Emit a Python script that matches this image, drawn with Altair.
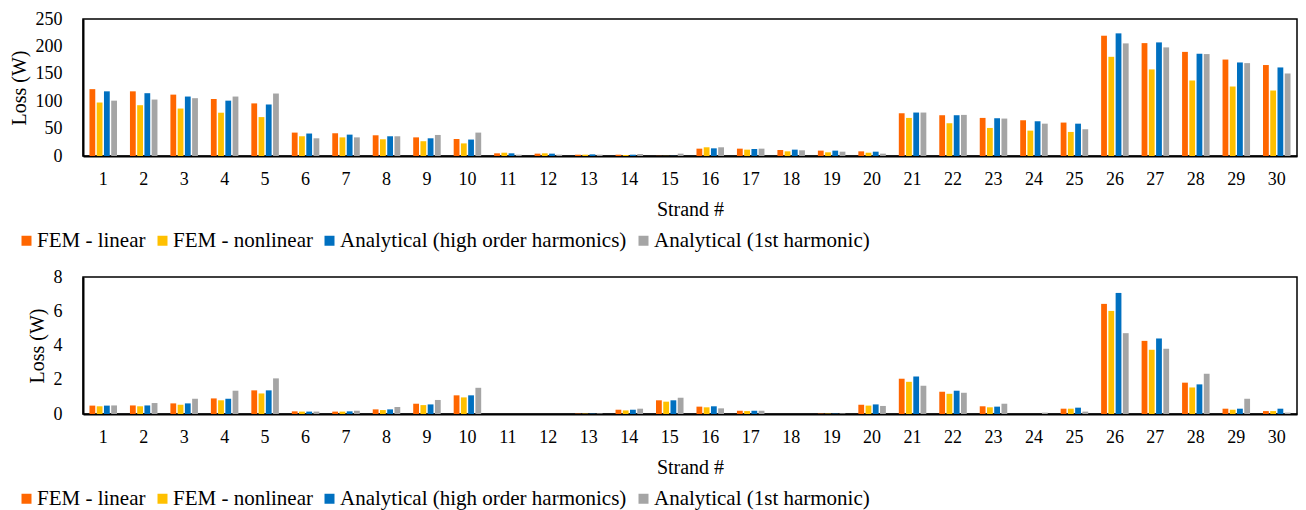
import altair as alt
import pandas as pd

strands = list(range(1, 31))
series_names = ["FEM - linear", "FEM - nonlinear",
                "Analytical (high order harmonics)", "Analytical (1st harmonic)"]
colors = ["#FF6600", "#FFC000", "#0070C0", "#A5A5A5"]

# Top chart
top_fem_linear = [122, 118, 112, 104, 96, 42.7, 41.5, 37.8, 34, 31,
                  4.9, 4.3, 2.4, 2.4, 0.3, 13.4, 13.4, 11, 9.8, 8.5,
                  78, 74.4, 69.5, 65.2, 61, 219.5, 206, 190, 176, 166]
top_fem_nonlinear = [97.6, 92.7, 86.6, 79, 71, 36, 34, 30.5, 27, 23,
                     6, 4.9, 2.4, 1.8, 0.2, 15.9, 11.6, 8.5, 6.7, 6,
                     69.5, 59.8, 51.2, 46.3, 43.9, 181, 158, 137.8, 126.8, 119.5]
top_ana_high = [118, 114.6, 108.5, 101, 94, 41, 39, 36, 32.3, 30,
                4.9, 4.3, 3, 2.4, 0.3, 14, 12.8, 11.6, 9.8, 7.9,
                79.3, 74.4, 68.9, 63.4, 59, 223.8, 207.3, 186.6, 170.7, 161.6]
top_ana_first = [101, 103, 105.5, 108.5, 114, 32.3, 34, 36, 38.4, 42.7,
                 2.4, 2.4, 2.4, 3.7, 4.3, 15.9, 13.4, 10.4, 7.9, 4.3,
                 79.3, 75, 68.3, 59, 48.8, 205.5, 198.2, 186, 169.5, 150.6]

# Bottom chart
bot_fem_linear = [0.49, 0.5, 0.62, 0.91, 1.38, 0.155, 0.14, 0.27, 0.6, 1.09,
                  0, 0, 0.02, 0.25, 0.8, 0.43, 0.19, 0, 0.02, 0.54,
                  2.06, 1.3, 0.45, 0, 0.31, 6.43, 4.27, 1.83, 0.31, 0.17]
bot_fem_nonlinear = [0.45, 0.45, 0.54, 0.8, 1.2, 0.14, 0.14, 0.23, 0.52, 0.97,
                     0, 0, 0.02, 0.21, 0.72, 0.39, 0.17, 0, 0.02, 0.49,
                     1.88, 1.18, 0.39, 0, 0.31, 6.02, 3.75, 1.55, 0.25, 0.17]
bot_ana_high = [0.49, 0.5, 0.62, 0.89, 1.38, 0.14, 0.155, 0.27, 0.56, 1.09,
                0, 0, 0.02, 0.25, 0.8, 0.45, 0.19, 0, 0.02, 0.56,
                2.19, 1.36, 0.43, 0, 0.37, 7.07, 4.41, 1.73, 0.31, 0.31]
bot_ana_first = [0.5, 0.64, 0.89, 1.36, 2.08, 0.14, 0.19, 0.41, 0.82, 1.53,
                 0, 0, 0.03, 0.31, 0.95, 0.33, 0.19, 0, 0.03, 0.47,
                 1.65, 1.24, 0.6, 0.08, 0.14, 4.72, 3.81, 2.35, 0.89, 0.08]

top_ticks = [0, 50, 100, 150, 200, 250]
bot_ticks = [0, 2, 4, 6, 8]


def long_df(cols):
    rows = []
    for name, vals in zip(series_names, cols):
        for s, v in zip(strands, vals):
            rows.append({"Strand": s, "Series": name, "Loss": v})
    return pd.DataFrame(rows)


df_top = long_df([top_fem_linear, top_fem_nonlinear, top_ana_high, top_ana_first])
df_bot = long_df([bot_fem_linear, bot_fem_nonlinear, bot_ana_high, bot_ana_first])

FONT = "Liberation Serif"
W = 1214
H = 137


def panel(df, ymax, ticks):
    return alt.Chart(df).mark_bar().encode(
        x=alt.X("Strand:O", sort=strands,
                scale=alt.Scale(paddingInner=0.32, paddingOuter=0.16),
                axis=alt.Axis(title="Strand #", labelAngle=0, tickSize=0,
                              labelPadding=14, titlePadding=11,
                              labelFont=FONT, titleFont=FONT,
                              labelFontSize=18, titleFontSize=20,
                              titleFontWeight="normal",
                              domainColor="black", domainWidth=2)),
        xOffset=alt.XOffset("Series:N", sort=series_names,
                            scale=alt.Scale(paddingInner=0.2, paddingOuter=0)),
        y=alt.Y("Loss:Q", scale=alt.Scale(domain=[0, ymax], nice=False),
                axis=alt.Axis(title="Loss (W)", values=ticks, grid=False,
                              tickSize=0, labelPadding=21, titlePadding=6,
                              labelFont=FONT, titleFont=FONT,
                              labelFontSize=18, titleFontSize=20,
                              titleFontWeight="normal",
                              domainColor="black", domainWidth=2)),
        color=alt.Color("Series:N", sort=series_names,
                        scale=alt.Scale(domain=series_names, range=colors),
                        legend=alt.Legend(title=None, orient="none",
                                          direction="horizontal",
                                          legendX=-67, legendY=H + 74,
                                          symbolType="square", symbolSize=100,
                                          symbolStrokeWidth=0,
                                          labelFontSize=21, labelFont=FONT,
                                          labelColor="black", labelLimit=400,
                                          labelOffset=0, columnPadding=6,
                                          padding=0, offset=0)),
    ).properties(width=W, height=H)


chart = alt.vconcat(
    panel(df_top, 250, top_ticks),
    panel(df_bot, 8, bot_ticks),
    spacing=15,
).resolve_legend(color="independent").resolve_scale(
    y="independent", color="shared"
).properties(
    padding={"left": 8, "top": 9, "right": 5, "bottom": 5},
    background="white",
).configure(
    font=FONT,
).configure_axis(
    labelFont=FONT, titleFont=FONT, labelColor="black", titleColor="black",
).configure_legend(
    labelFont=FONT,
).configure_view(
    stroke="black", strokeWidth=1.5,
)

chart.save("out.html", embed_options={"renderer": "svg", "actions": False})
